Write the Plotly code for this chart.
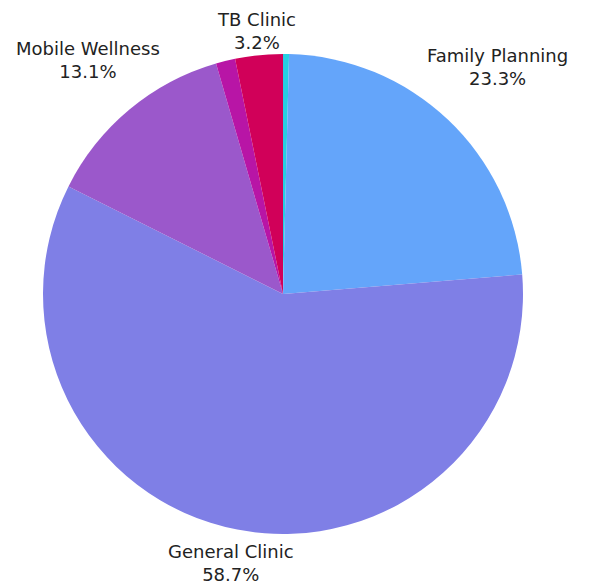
import math
import plotly.graph_objects as go

labels = ["Outreach", "Family Planning", "General Clinic", "Mobile Wellness", "School Health", "TB Clinic"]
values = [0.4, 23.3, 58.7, 13.1, 1.3, 3.2]
show_label = [False, True, True, True, False, True]
colors = ["#26cfe3", "#64a5fa", "#7f7fe6", "#9b58cb", "#b815a6", "#d10059"]
# radial distance of each label centre, as a multiple of the pie radius
label_dist = [1.0, 1.30, 1.14, 1.27, 1.0, 1.10]

# page body has an 8px default margin, so the figure is sized to fit inside the window
W, H = 584, 579
L, R_, T, B = 35, 69, 46, 53
pw, ph = W - L - R_, H - T - B
radius = min(pw, ph) / 2

fig = go.Figure(go.Pie(
    labels=labels,
    values=values,
    textinfo="none",
    sort=False,
    direction="clockwise",
    rotation=0,
    marker=dict(colors=colors, line=dict(width=0)),
    showlegend=False,
    automargin=False,
    hoverinfo="label+percent",
))

total = sum(values)
cum = 0.0
annotations = []
for lab, val, show, k in zip(labels, values, show_label, label_dist):
    mid = (cum + val / 2) / total * 2 * math.pi
    cum += val
    if not show:
        continue
    dx = k * radius * math.sin(mid)
    dy = k * radius * math.cos(mid)
    pct = 100 * val / total
    annotations.append(dict(
        x=0.5 + dx / pw, y=0.5 + dy / ph, xref="paper", yref="paper",
        text=f"{lab}<br>{pct:.1f}%", showarrow=False,
        xanchor="center", yanchor="middle", align="center",
        borderpad=0,
        font=dict(family="DejaVu Sans", size=18, color="#222222"),
    ))

fig.update_layout(
    width=W,
    height=H,
    margin=dict(l=L, r=R_, t=T, b=B),
    paper_bgcolor="white",
    plot_bgcolor="white",
    annotations=annotations,
    font=dict(family="DejaVu Sans", size=18, color="#222222"),
)

fig.write_html("out.html")
